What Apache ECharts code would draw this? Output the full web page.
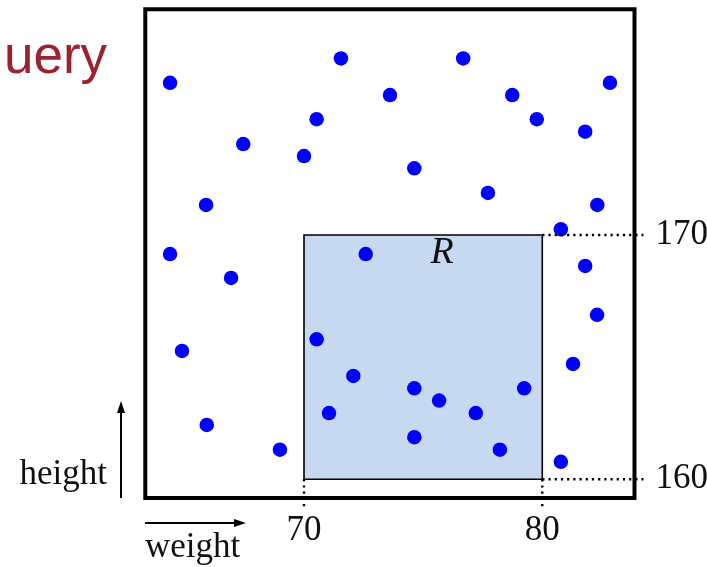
<!DOCTYPE html>
<html>
<head>
<meta charset="utf-8">
<script src="https://cdn.jsdelivr.net/npm/echarts@6/dist/echarts.min.js"></script>
<style>
  html, body { margin: 0; padding: 0; background: #ffffff; }
  #chart { width: 707px; height: 567px; }
</style>
</head>
<body>
<div id="chart"></div>
<script>
// Sample records: weight (kg) and height (cm) for each person
const weights = [64.38, 71.55, 76.68, 73.61, 78.74, 82.84, 70.53, 79.77, 67.45, 70.00,
                 81.80, 74.63, 77.72, 65.89, 82.31, 80.78, 64.38, 72.59, 81.80, 66.94,
                 82.30, 70.53, 64.88, 81.29, 72.07, 74.63, 79.24, 75.67, 71.05, 77.21,
                 65.92, 74.63, 68.99, 78.22, 80.78];
const heights = [176.23, 177.23, 177.23, 175.73, 175.73, 176.23, 174.74, 174.74, 173.72, 173.23,
                 174.23, 172.73, 171.72, 171.23, 171.23, 170.23, 169.22, 169.22, 168.73, 168.24,
                 166.73, 165.73, 165.25, 164.72, 164.23, 163.72, 163.72, 163.22, 162.71, 162.71,
                 162.22, 161.72, 161.21, 161.21, 160.71];

// Range query R: weight in [70, 80], height in [160, 170]
const rangeWeight = [70, 80];
const rangeHeight = [160, 170];
const weightTicks = [70, 80];
const heightTicks = [160, 170];

const points = weights.map((w, i) => [w, heights[i]]);

const serif = '"Liberation Serif", "DejaVu Serif", serif';
const chart = echarts.init(document.getElementById('chart'), null, { renderer: 'canvas' });

const GRID = { left: 145.3, top: 9.3, width: 489.2, height: 488.7 };

chart.setOption({
  animation: false,
  backgroundColor: '#ffffff',
  grid: {
    left: GRID.left, top: GRID.top, width: GRID.width, height: GRID.height,
    outerBoundsMode: 'none', containLabel: false,
    show: true, borderColor: '#000000', borderWidth: 4, backgroundColor: 'transparent', z: 4
  },
  xAxis: {
    type: 'value', min: 63.34, max: 83.87,
    axisLine: { show: false }, axisTick: { show: false }, splitLine: { show: false },
    axisLabel: {
      customValues: weightTicks, margin: 33, verticalAlign: 'middle',
      fontFamily: serif, fontSize: 35, color: '#111111'
    }
  },
  yAxis: {
    type: 'value', position: 'right', min: 159.23, max: 179.24,
    axisLine: { show: false }, axisTick: { show: false }, splitLine: { show: false },
    axisLabel: {
      customValues: heightTicks, margin: 21, align: 'left', verticalAlign: 'middle',
      padding: [6, 0, 0, 0],
      fontFamily: serif, fontSize: 35, color: '#111111'
    }
  },
  series: [
    {
      name: 'query',
      type: 'scatter',
      data: [],
      z: 1,
      markArea: {
        silent: true,
        itemStyle: { color: '#C6D9F1', borderColor: '#000000', borderWidth: 1.6, opacity: 1 },
        label: { show: false },
        data: [[
          { coord: [rangeWeight[0], rangeHeight[1]] },
          { coord: [rangeWeight[1], rangeHeight[0]] }
        ]]
      }
    },
    {
      name: 'people',
      type: 'scatter',
      data: points,
      z: 3,
      symbol: 'circle',
      symbolSize: 14.5,
      itemStyle: { color: '#0000FF', opacity: 1 }
    }
  ]
});

// Guide lines, region label and axis captions
const px = (w, h) => chart.convertToPixel({ gridIndex: 0 }, [w, h]);
const gridRight = GRID.left + GRID.width;
const gridBottom = GRID.top + GRID.height;
const dotted = { stroke: '#000000', lineWidth: 2.4, lineDash: [2.2, 4] };

const guides = [];
rangeHeight.forEach(h => {
  const p = px(rangeWeight[1], h);
  guides.push({ type: 'line', z: 10, shape: { x1: p[0], y1: p[1], x2: gridRight + 9, y2: p[1] }, style: dotted });
});
rangeWeight.forEach(w => {
  const p = px(w, rangeHeight[0]);
  guides.push({ type: 'line', z: 10, shape: { x1: p[0], y1: p[1], x2: p[0], y2: gridBottom + 9 }, style: dotted });
});

const rLabel = px(75.8, 169.25);

chart.setOption({
  graphic: [
    ...guides,
    {
      type: 'text', z: 10, x: rLabel[0], y: rLabel[1],
      style: { text: 'R', fontFamily: serif, fontStyle: 'italic', fontSize: 38, fill: '#111111',
               align: 'center', verticalAlign: 'middle' }
    },
    // height arrow
    { type: 'line', z: 10, shape: { x1: 121, y1: 498, x2: 121, y2: 410 }, style: { stroke: '#000000', lineWidth: 2 } },
    { type: 'polygon', z: 10, shape: { points: [[121, 401], [117, 413], [125, 413]] }, style: { fill: '#000000' } },
    {
      type: 'text', z: 10, x: 107, y: 475,
      style: { text: 'height', fontFamily: serif, fontSize: 35, fill: '#111111', align: 'right', verticalAlign: 'middle' }
    },
    // weight arrow
    { type: 'line', z: 10, shape: { x1: 145, y1: 523, x2: 236, y2: 523 }, style: { stroke: '#000000', lineWidth: 2 } },
    { type: 'polygon', z: 10, shape: { points: [[246, 523], [234, 519], [234, 527]] }, style: { fill: '#000000' } },
    {
      type: 'text', z: 10, x: 145, y: 548,
      style: { text: 'weight', fontFamily: serif, fontSize: 35, fill: '#111111', align: 'left', verticalAlign: 'middle' }
    },
    // slide heading fragment
    {
      type: 'text', z: 10, x: 4, y: 58,
      style: { text: 'uery', fontFamily: '"Liberation Sans", "DejaVu Sans", sans-serif', fontSize: 53,
               fill: '#9B2331', align: 'left', verticalAlign: 'middle' }
    }
  ]
});
</script>
</body>
</html>
